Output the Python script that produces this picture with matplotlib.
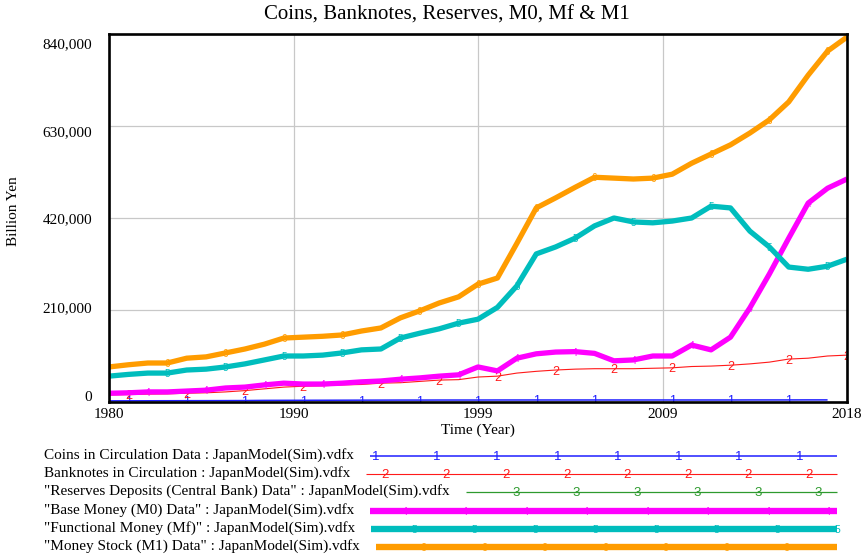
import matplotlib
matplotlib.use('Agg')
import matplotlib.pyplot as plt
import matplotlib.transforms as mtransforms
from matplotlib.lines import Line2D

plt.rcParams['font.family'] = ['Liberation Serif', 'DejaVu Serif']

# --- data (billion yen) ---
years = list(range(1980, 2019))
coins_years = list(range(1980, 2018))
coins = [2600, 2700, 2800, 2900, 3000, 3100, 3200, 3300, 3700, 3800,
         3900, 4000, 4100, 4200, 4300, 4400, 4400, 4500, 4500, 4500,
         4600, 4600, 4600, 4600, 4600, 4600, 4600, 4600, 4600, 4600,
         4600, 4600, 4600, 4700, 4700, 4700, 4800, 4800]
banknotes = [16000, 17000, 18000, 18500, 20000, 21000, 23000, 26000, 30000, 34000,
             36000, 37000, 39000, 40000, 43000, 44000, 47000, 50000, 51000, 57000,
             59000, 66000, 70000, 73000, 75000, 76000, 76000, 76000, 77000, 78000,
             81000, 82000, 84000, 87000, 91000, 98000, 100000, 105000, 107000]
reserves_years = []  # no points shown in the chart
reserves = []
m0 = [20000, 21000, 23000, 23000, 25000, 27000, 32000, 34000, 39000, 43000,
      41000, 41000, 43000, 46000, 48000, 52000, 55000, 59000, 62000, 80000,
      71000, 100000, 110000, 114000, 115000, 111000, 94000, 96000, 105000, 105000,
      130000, 119000, 148000, 215000, 292000, 374000, 454000, 488000, 509000]
mf = [59000, 63000, 66000, 66000, 73000, 75000, 80000, 87000, 96000, 105000,
      105000, 107000, 112000, 119000, 121000, 146000, 157000, 167000, 180000, 189000,
      216000, 265000, 338000, 354000, 374000, 402000, 420000, 411000, 409000, 413000,
      420000, 447000, 443000, 390000, 354000, 308000, 303000, 310000, 326000]
m1 = [80000, 85000, 89000, 89000, 100000, 103000, 112000, 121000, 132000, 146000,
      148000, 150000, 153000, 162000, 169000, 192000, 208000, 226000, 240000, 269000,
      283000, 362000, 443000, 466000, 490000, 513000, 511000, 509000, 511000, 520000,
      545000, 566000, 587000, 614000, 644000, 685000, 746000, 801000, 833000]

names = ['Coins in Circulation Data : JapanModel(Sim).vdfx',
         'Banknotes in Circulation : JapanModel(Sim).vdfx',
         '"Reserves Deposits (Central Bank) Data" : JapanModel(Sim).vdfx',
         '"Base Money (M0) Data" : JapanModel(Sim).vdfx',
         '"Functional Money (Mf)" : JapanModel(Sim).vdfx',
         '"Money Stock (M1) Data" : JapanModel(Sim).vdfx']

# years where vensim puts the series number on the line
mark_years = [
    [1981, 1984, 1987, 1990, 1993, 1996, 1999, 2002, 2005, 2009, 2012, 2015],
    [1981, 1984, 1987, 1990, 1994, 1997, 2000, 2003, 2006, 2009, 2012, 2015, 2018],
    [],
    [1982, 1985, 1988, 1991, 1995, 1998, 2001, 2004, 2007, 2010, 2013, 2016],
    [1983, 1986, 1989, 1992, 1995, 1998, 2001, 2004, 2007, 2011, 2014, 2017],
    [1983, 1986, 1989, 1992, 1996, 1999, 2002, 2005, 2008, 2011, 2014, 2017],
]

x_ticks = [1980, 1989.5, 1999, 2008.5, 2018]
x_labels = ['1980', '1990', '1999', '2009', '2018']
y_ticks = [0, 210000, 420000, 630000, 840000]
y_labels = ['0', '210,000', '420,000', '630,000', '840,000']

xs_all = [coins_years, years, reserves_years, years, years, years]
ys_all = [coins, banknotes, reserves, m0, mf, m1]
colors = ['#1f1fff', '#ff1a1a', '#2e9a2e', '#ff00ff', '#00bdbd', '#ff9c00']
widths = [1.1, 0.8, 0.9, 3.8, 3.8, 3.8]
digit_size = [9, 9, 9, 7.5, 7, 7]

W, H = 862, 554
fig = plt.figure(figsize=(W / 100, H / 100), dpi=100)
ax = fig.add_axes([109 / W, 1 - 402 / H, 738 / W, 368 / H])

for i in range(6):
    xs, ys = xs_all[i], ys_all[i]
    ax.plot(xs, ys, color=colors[i], lw=widths[i], solid_joinstyle='round',
            solid_capstyle='butt', zorder=3 + i)
    for yr in mark_years[i]:
        if yr in xs:
            ax.text(yr, ys[xs.index(yr)], str(i + 1), color=colors[i],
                    family='Liberation Sans', fontsize=digit_size[i], ha='center',
                    va='center_baseline', zorder=3 + i, clip_on=True)

ax.set_xlim(1980, 2018)
ax.set_ylim(0, 840000)
ax.set_xticks(x_ticks)
ax.set_xticklabels(x_labels)
ax.set_yticks(y_ticks)
ax.set_yticklabels(y_labels)
ax.tick_params(length=0, labelsize=11)
ax.tick_params(axis='y', pad=12)
ax.tick_params(axis='x', pad=4)
ax.grid(True, color='#c8c8c8', lw=0.9)
ax.set_axisbelow(True)
for s in ax.spines.values():
    s.set_linewidth(1.9)
    s.set_zorder(20)

# vensim spreads the y labels a bit inside the frame
y_shift = [6, 3, 0, -5, -9]
for lab, d in zip(ax.get_yticklabels(), y_shift):
    lab.set_transform(lab.get_transform() +
                      mtransforms.ScaledTranslation(0, d / 100, fig.dpi_scale_trans))

ax.set_xlabel('Time (Year)', fontsize=11, labelpad=2)
ax.set_ylabel('Billion Yen', fontsize=11)
ax.yaxis.set_label_coords((20 - 109) / 738, (402 - 211) / 368)

fig.text(447 / W, 1 - 15 / H, 'Coins, Banknotes, Reserves, M0, Mf & M1',
         fontsize=15, ha='center', va='center')

# legend below the plot, drawn in pixel coords
pix = mtransforms.Affine2D().scale(1 / W, -1 / H).translate(0, 1) + fig.transFigure
row_y = [455, 473, 491, 510, 528, 546]
texts = []
for i in range(6):
    texts.append(fig.text(44, row_y[i], names[i], transform=pix,
                          fontsize=11, va='center'))
fig.canvas.draw()
r = fig.canvas.get_renderer()
for i in range(6):
    bb = texts[i].get_window_extent(r)
    x0 = bb.x1 + 16
    x1 = 837
    y = row_y[i] + 1
    fig.add_artist(Line2D([x0, x1], [y, y], transform=pix, color=colors[i],
                          lw=widths[i] * 1.2 if i >= 3 else widths[i],
                          solid_capstyle='butt'))
    mx = 376 + i * 9.5
    while mx <= x1 + 2:
        if mx >= x0:
            fig.text(mx, y, str(i + 1), transform=pix, color=colors[i],
                     family='Liberation Sans', fontsize=digit_size[i] + 0.5,
                     ha='center', va='center_baseline')
        mx += 60.5

fig.savefig('out.png', dpi=100)
